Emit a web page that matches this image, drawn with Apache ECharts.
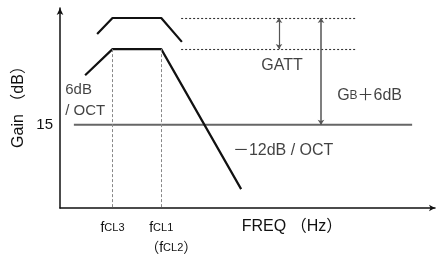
<!DOCTYPE html>
<html>
<head>
<meta charset="utf-8">
<script src="https://cdn.jsdelivr.net/npm/echarts@6/dist/echarts.min.js"></script>
<style>
html,body{margin:0;padding:0;background:#fff;}
#main{width:437px;height:257px;}
</style>
</head>
<body>
<div id="main"></div>
<script>
// gain curves (x: relative freq units, y: dB)
var upperX = [9.9, 14, 27, 32.5];
var upperY = [31.3, 34.2, 34.2, 29.9];
var lowerX = [6.7, 14, 27, 48.3];
var lowerY = [23.9, 28.6, 28.6, 3.4];
var refGain = 15;
var fclTicks = [14, 27];
var gainTicks = [15];
var gTop = 34.2, gFlat = 28.6;

var FONT = 'Liberation Sans, Arial, Noto Sans CJK JP';
var ink = '#111';

function pts(xs, ys) {
    return xs.map(function (x, i) { return [x, ys[i]]; });
}

var myChart = echarts.init(document.getElementById('main'));
var option = {
    animation: false,
    grid: {left: 60, right: 2, top: 8, bottom: 49, outerBoundsMode: 'none'},
    xAxis: {
        type: 'value', min: 0, max: 100,
        name: 'FREQ （Hz）',
        nameLocation: 'middle',
        nameGap: 11,
        nameMoveOverlap: false,
        nameTextStyle: {color: ink, fontSize: 16, fontFamily: FONT, padding: [0, 0, 0, 89]},
        axisLine: {symbol: ['none', 'arrow'], symbolSize: [5, 6], lineStyle: {color: ink, width: 1.5}},
        axisTick: {show: false},
        splitLine: {show: false},
        axisLabel: {
            customValues: fclTicks,
            margin: 10,
            color: ink,
            fontFamily: FONT,
            formatter: function (v) {
                if (v === fclTicks[0]) return '{f|f}{s|CL3}';
                return '{f|f}{s|CL1}\n{g|}{p|（}{f|f}{s|CL2}{p|）}';
            },
            rich: {
                f: {fontSize: 14, fontFamily: FONT, color: ink, lineHeight: 20},
                s: {fontSize: 11, fontFamily: FONT, color: ink, lineHeight: 20},
                p: {fontSize: 14, fontFamily: FONT, color: ink, lineHeight: 20},
                g: {width: 20}
            }
        }
    },
    yAxis: {
        type: 'value', min: 0, max: 36,
        name: 'Gain （dB）',
        nameLocation: 'middle',
        nameGap: 33,
        nameRotate: 90,
        nameMoveOverlap: false,
        nameTextStyle: {color: ink, fontSize: 16, fontFamily: FONT, padding: [0, 0, 0, 10]},
        axisLine: {symbol: ['none', 'arrow'], symbolSize: [5, 7], lineStyle: {color: ink, width: 1.5}},
        axisTick: {show: false},
        splitLine: {show: false},
        axisLabel: {customValues: gainTicks, margin: 7, color: ink, fontSize: 15, fontFamily: FONT}
    },
    series: [
        {
            type: 'line', data: pts(upperX, upperY), symbol: 'none',
            lineStyle: {color: ink, width: 2.2}
        },
        {
            type: 'line', data: pts(lowerX, lowerY), symbol: 'none',
            lineStyle: {color: ink, width: 2.2}
        },
        {
            // 15 dB reference line
            type: 'line', data: [[3.7, refGain], [93.9, refGain]], symbol: 'none',
            lineStyle: {color: '#666', width: 2}, z: 1
        },
        {
            // guide lines and dimension arrows
            type: 'line', data: [], symbol: 'none',
            markLine: {
                silent: true,
                symbol: ['none', 'none'],
                label: {show: false},
                data: [
                    [{coord: [fclTicks[0], gFlat], lineStyle: {color: '#888', width: 1, type: [3, 2]}}, {coord: [fclTicks[0], 0]}],
                    [{coord: [fclTicks[1], gFlat], lineStyle: {color: '#888', width: 1, type: [3, 2]}}, {coord: [fclTicks[1], 0]}],
                    [{coord: [32.3, gTop], lineStyle: {color: '#333', width: 1.1, type: [2, 2]}}, {coord: [78.9, gTop]}],
                    [{coord: [32.3, gFlat], lineStyle: {color: '#333', width: 1.1, type: [2, 2]}}, {coord: [78.9, gFlat]}],
                    [{coord: [58.4, gTop], symbol: 'arrow', symbolSize: 5, lineStyle: {color: '#555', width: 1.2, type: 'solid'}},
                     {coord: [58.4, gFlat], symbol: 'arrow', symbolSize: 5}],
                    [{coord: [69.6, gTop], symbol: 'arrow', symbolSize: 5, lineStyle: {color: '#555', width: 1.5, type: 'solid'}},
                     {coord: [69.6, refGain], symbol: 'arrow', symbolSize: 5}]
                ]
            }
        },
        {
            // annotation texts
            type: 'scatter', symbolSize: 0, clip: false, silent: true,
            label: {show: true, color: ink, fontSize: 15, fontFamily: FONT, position: 'inside'},
            data: [
                {value: [1.4, 19.3], label: {formatter: '6dB\n/ OCT', align: 'left', verticalAlign: 'middle', lineHeight: 21}},
                {value: [59.2, 25.7], label: {formatter: 'GATT', align: 'center', verticalAlign: 'middle', fontSize: 16}},
                {value: [73.9, 20.3], label: {formatter: '{b|G}{s|B}{b|＋6dB}', align: 'left', verticalAlign: 'middle',
                    rich: {b: {fontSize: 16, fontFamily: FONT, color: ink}, s: {fontSize: 12, fontFamily: FONT, color: ink}}}},
                {value: [46.1, 10.3], label: {formatter: '－12dB / OCT', align: 'left', verticalAlign: 'middle', fontSize: 16}}
            ]
        }
    ]
};
myChart.setOption(option);
</script>
</body>
</html>
